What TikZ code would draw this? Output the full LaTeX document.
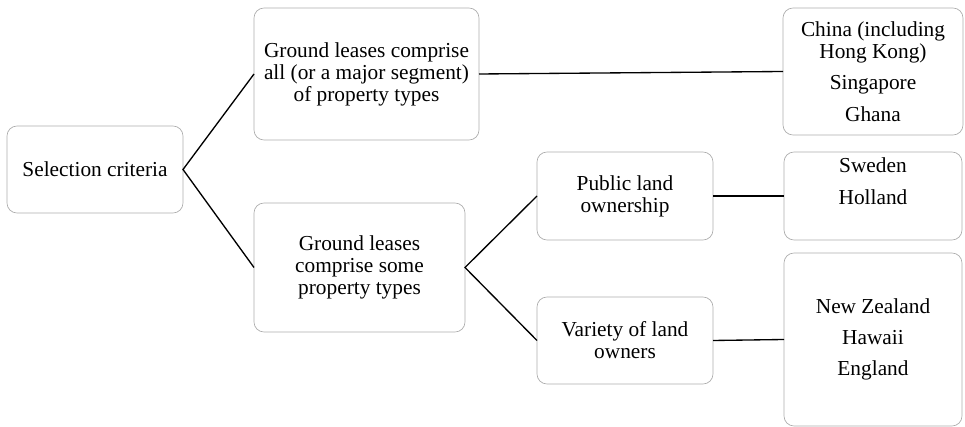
\documentclass[tikz,border=0pt]{standalone}
\usepackage{fontspec}
\setmainfont{Liberation Serif}
\tikzset{
  critbox/.style={draw=gray!65, line width=0.5pt, rounded corners=7.5pt, align=center,
    inner sep=0pt, outer sep=0pt, font=\fontsize{16}{16.5}\selectfont},
  link/.style={line width=1pt, black}
}
\begin{document}
\begin{tikzpicture}[x=0.75pt,y=-0.75pt]
  \useasboundingbox (0,0) rectangle (965,427);
  % first level
  \node[critbox, minimum width=132pt, minimum height=65.25pt] (sel) at (95,169.5) {Selection criteria};
  % second level
  \node[critbox, minimum width=168.75pt, minimum height=99pt] (all) at (366.5,74)
    {Ground leases comprise\\all (or a major segment)\\of property types};
  \node[critbox, minimum width=158.25pt, minimum height=96.75pt] (some) at (359.5,267.5)
    {Ground leases\\comprise some\\property types};
  % third level
  \node[critbox, minimum width=132pt, minimum height=66pt] (public) at (625,196)
    {Public land\\ownership};
  \node[critbox, minimum width=132pt, minimum height=65.25pt] (variety) at (625,340.5)
    {Variety of land\\owners};
  % countries
  \node[critbox, minimum width=135pt, minimum height=95.25pt] (china) at (873,71.5)
    {China (including\\Hong Kong)\\[7pt]Singapore\\[7pt]Ghana};
  \node[critbox, minimum width=133.5pt, minimum height=66pt] (sweden) at (873,196)
    {Sweden\\[7pt]Holland\\[1pt]\strut};
  \node[critbox, minimum width=133.5pt, minimum height=129.75pt] (nz) at (873,339.5)
    {New Zealand\\[7pt]Hawaii\\[7pt]England};
  % connectors
  \draw[link] (all.west) -- (sel.east) -- (some.west);
  \draw[link] (all.east) -- (china.west);
  \draw[link] (public.west) -- (some.east) -- (variety.west);
  \draw[link] (public.east) -- (sweden.west);
  \draw[link] (variety.east) -- (nz.west);
\end{tikzpicture}
\end{document}
